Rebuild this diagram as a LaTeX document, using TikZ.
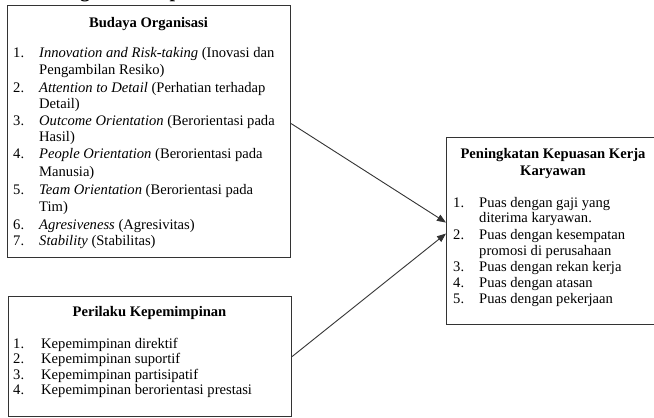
\documentclass[tikz,border=0pt]{standalone}
\usepackage{fontspec}
\setmainfont{Liberation Serif}
\usetikzlibrary{arrows.meta}
\begin{document}
\begin{tikzpicture}[x=1pt,y=-1pt,
  box/.style={draw=black!80,line width=1.1pt,anchor=north west,inner sep=0pt},
  txt/.style={anchor=base west,inner sep=0pt,font=\fontsize{14.6}{17}\selectfont},
  ttl/.style={anchor=base,inner sep=0pt,font=\fontsize{14.6}{17}\selectfont\bfseries},
  head/.style={anchor=base west,inner sep=0pt,font=\fontsize{20}{24}\selectfont\bfseries},
  arr/.style={draw=black!80,line width=0.9pt,-{Triangle[length=9pt,width=7pt]}}]
\useasboundingbox (0,0) rectangle (654,418);
% heading, cut off at the top edge as in the reference
\node[head] (hd) at (25.5,-2.5) {Kerangka Konseptual};
% boxes
\node[box,minimum width=283pt,minimum height=252pt] (bo) at (7,5) {};
\node[box,minimum width=283pt,minimum height=120pt] (bp) at (8,296) {};
\node[box,minimum width=230pt,minimum height=187pt] (kk) at (446,137) {};
% box 1
\node[ttl] (bot) at (148.5,27) {Budaya Organisasi};
\node[txt] (n1) at (13,57) {1.};
\node[txt] (t1) at (39,57) {\textit{Innovation and Risk-taking} (Inovasi dan};
\node[txt] (t1b) at (39,74.5) {Pengambilan Resiko)};
\node[txt] (n2) at (13,92) {2.};
\node[txt] (t2) at (39,92) {\textit{Attention to Detail} (Perhatian terhadap};
\node[txt] (t2b) at (39,108.5) {Detail)};
\node[txt] (n3) at (13,125) {3.};
\node[txt] (t3) at (39,125) {\textit{Outcome Orientation} (Berorientasi pada};
\node[txt] (t3b) at (39,141.5) {Hasil)};
\node[txt] (n4) at (13,158.5) {4.};
\node[txt] (t4) at (39,158.5) {\textit{People Orientation} (Berorientasi pada};
\node[txt] (t4b) at (39,176) {Manusia)};
\node[txt] (n5) at (13,194) {5.};
\node[txt] (t5) at (39,194) {\textit{Team Orientation} (Berorientasi pada};
\node[txt] (t5b) at (39,211.5) {Tim)};
\node[txt] (n6) at (13,229) {6.};
\node[txt] (t6) at (39,229) {\textit{Agresiveness} (Agresivitas)};
\node[txt] (n7) at (13,245) {7.};
\node[txt] (t7) at (39,245) {\textit{Stability} (Stabilitas)};
% box 2
\node[ttl] (bpt) at (149.5,316) {Perilaku Kepemimpinan};
\node[txt] (m1) at (13,348.5) {1.};
\node[txt] (p1) at (41,348.5) {Kepemimpinan direktif};
\node[txt] (m2) at (13,363.8) {2.};
\node[txt] (p2) at (41,363.8) {Kepemimpinan suportif};
\node[txt] (m3) at (13,379.1) {3.};
\node[txt] (p3) at (41,379.1) {Kepemimpinan partisipatif};
\node[txt] (m4) at (13,394.4) {4.};
\node[txt] (p4) at (41,394.4) {Kepemimpinan berorientasi prestasi};
% right box
\node[ttl] (kkt) at (553,158) {Peningkatan Kepuasan Kerja};
\node[ttl] (kkt2) at (553,175) {Karyawan};
\node[txt] (k1) at (453,207) {1.};
\node[txt] (r1) at (479,207) {Puas dengan gaji yang};
\node[txt] (r1b) at (479,222) {diterima karyawan.};
\node[txt] (k2) at (453,239) {2.};
\node[txt] (r2) at (479,239) {Puas dengan kesempatan};
\node[txt] (r2b) at (479,255) {promosi di perusahaan};
\node[txt] (k3) at (453,271) {3.};
\node[txt] (r3) at (479,271) {Puas dengan rekan kerja};
\node[txt] (k4) at (453,287) {4.};
\node[txt] (r4) at (479,287) {Puas dengan atasan};
\node[txt] (k5) at (453,303) {5.};
\node[txt] (r5) at (479,303) {Puas dengan pekerjaan};
% arrows
\draw[arr] ([yshift=8pt]bo.east) -- ([yshift=8.5pt]kk.west);
\draw[arr] (bp.east) -- ([yshift=-2.5pt]kk.west);
\end{tikzpicture}
\end{document}
